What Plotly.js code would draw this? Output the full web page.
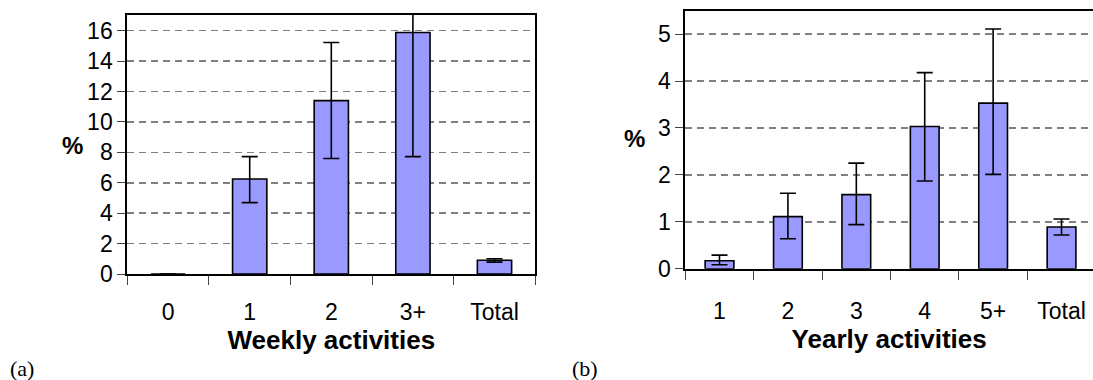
<!DOCTYPE html>
<html>
<head>
<meta charset="utf-8">
<script src="https://cdn.plot.ly/plotly-3.0.1.min.js"></script>
<style>
  html, body { margin: 0; padding: 0; background: #ffffff; }
  #chart { width: 1093px; height: 380px; }
</style>
</head>
<body>
<div id="chart"></div>
<script>
// ---- data ----
const weeklyCats = ["0", "1", "2", "3+", "Total"];
const weeklyPct = [0, 6.25, 11.4, 15.88, 0.9];
const weeklyErrPlus = [null, 1.47, 3.82, 8.2, 0.1];
const weeklyErrMinus = [null, 1.56, 3.81, 8.16, 0.12];

const yearlyCats = ["1", "2", "3", "4", "5+", "Total"];
const yearlyPct = [0.17, 1.11, 1.58, 3.03, 3.53, 0.89];
const yearlyErrPlus = [0.12, 0.5, 0.67, 1.15, 1.58, 0.17];
const yearlyErrMinus = [0.085, 0.47, 0.64, 1.16, 1.52, 0.17];

const weeklyTitle = "Weekly activities";
const yearlyTitle = "Yearly activities";
const yLabel = "%";
const panelA = "(a)";
const panelB = "(b)";

// ---- styling ----
const W = 1093, H = 380;
const barFill = "#9999ff";
const tickFont = { family: "Liberation Sans, Arial, sans-serif", size: 23, color: "#000" };
const titleFont = { family: "Liberation Sans, Arial, sans-serif", size: 26, color: "#000", weight: 700 };
const pctFont = { family: "Liberation Sans, Arial, sans-serif", size: 24, color: "#000", weight: 700 };
const panelFont = { family: "Liberation Serif, Times New Roman, serif", size: 22, color: "#000" };

function errStyle(plus, minus) {
  return {
    type: "data", symmetric: false, array: plus, arrayminus: minus,
    color: "#000", thickness: 1.6, width: 8, visible: true
  };
}

const traces = [
  {
    type: "bar", x: weeklyCats, y: weeklyPct, xaxis: "x", yaxis: "y",
    marker: { color: barFill, line: { color: "#000", width: 1.6 } },
    error_y: errStyle(weeklyErrPlus, weeklyErrMinus),
    hoverinfo: "x+y", showlegend: false
  },
  {
    type: "bar", x: yearlyCats, y: yearlyPct, xaxis: "x2", yaxis: "y2",
    marker: { color: barFill, line: { color: "#000", width: 1.6 } },
    error_y: errStyle(yearlyErrPlus, yearlyErrMinus),
    hoverinfo: "x+y", showlegend: false
  }
];

function px(x) { return x / W; }
function py(y) { return (H - y) / H; }

const commonX = {
  type: "category", tickson: "boundaries", ticks: "outside", ticklen: 9,
  tickcolor: "#444", tickwidth: 1, showline: true, linecolor: "#000", linewidth: 2,
  showgrid: false, zeroline: false, tickfont: tickFont,
  fixedrange: true
};
const commonY = {
  ticks: "outside", ticklen: 8, tickcolor: "#444", tickwidth: 1,
  showline: true, linecolor: "#000", linewidth: 2, zeroline: false,
  showgrid: true, gridcolor: "#808080", gridwidth: 1.5, griddash: "7px,5px",
  tickfont: tickFont, tick0: 0, fixedrange: true
};

const layout = {
  width: W, height: H,
  margin: { l: 0, r: 0, t: 0, b: 0, pad: 0 },
  paper_bgcolor: "#fff", plot_bgcolor: "#fff",
  bargap: 0.58,
  showlegend: false,
  xaxis: Object.assign({}, commonX, {
    domain: [px(127.3), px(535.3)], anchor: "y", range: [-0.5, 4.5], mirror: true,
    ticklabelstandoff: 16,
    title: { text: weeklyTitle, font: titleFont, standoff: 3 }
  }),
  yaxis: Object.assign({}, commonY, {
    domain: [py(274), py(14.7)], anchor: "x", range: [0, 17.05], dtick: 2, mirror: true
  }),
  xaxis2: Object.assign({}, commonX, {
    domain: [px(685.3), 1], anchor: "y2", range: [-0.5, 5.46], mirror: true,
    ticklabelstandoff: 21,
    title: { text: yearlyTitle, font: titleFont, standoff: 3 }
  }),
  yaxis2: Object.assign({}, commonY, {
    domain: [py(268.7), py(10.7)], anchor: "x2", range: [0, 5.5], dtick: 1, mirror: false
  }),
  annotations: [
    { text: yLabel, xref: "paper", yref: "paper", x: px(72), y: py(145),
      xanchor: "center", yanchor: "middle", showarrow: false, font: pctFont },
    { text: yLabel, xref: "paper", yref: "paper", x: px(634), y: py(138),
      xanchor: "center", yanchor: "middle", showarrow: false, font: pctFont },
    { text: panelA, xref: "paper", yref: "paper", x: px(8), y: py(368),
      xanchor: "left", yanchor: "middle", showarrow: false, font: panelFont },
    { text: panelB, xref: "paper", yref: "paper", x: px(570), y: py(368),
      xanchor: "left", yanchor: "middle", showarrow: false, font: panelFont }
  ]
};

Plotly.newPlot("chart", traces, layout, { displayModeBar: false, staticPlot: true });
</script>
</body>
</html>
